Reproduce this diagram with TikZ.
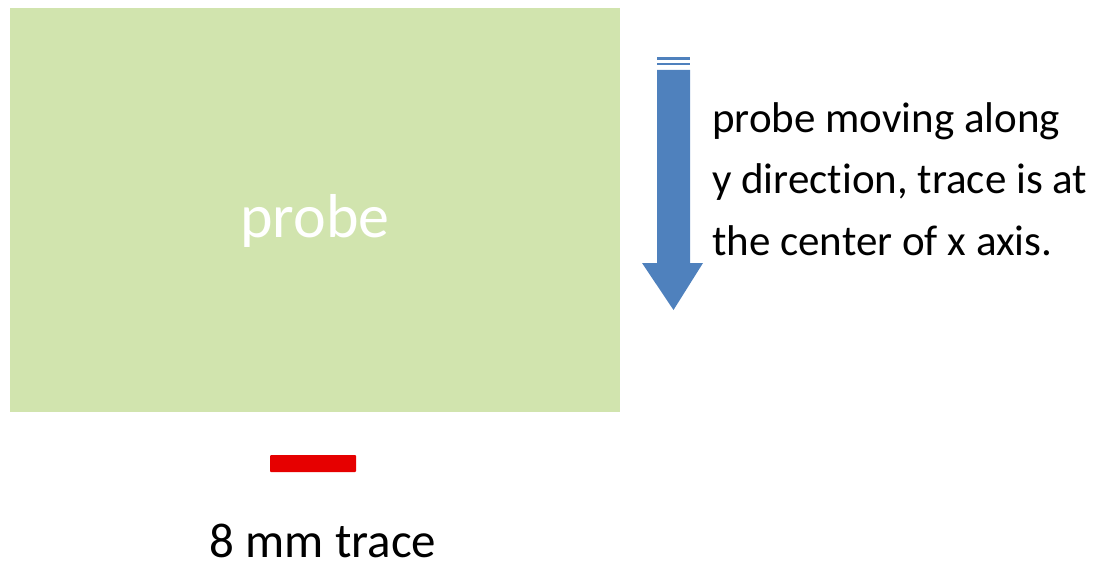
\documentclass[tikz,border=0pt]{standalone}
\usepackage{fontspec}
\setmainfont[RawFeature=-liga]{Carlito}
\definecolor{probegreen}{RGB}{209,228,174}
\definecolor{arrowblue}{RGB}{79,129,189}
\definecolor{tracered}{RGB}{230,0,0}
\tikzset{
  probebox/.style={fill=probegreen, draw=none, inner sep=0pt},
  tracebar/.style={fill=tracered, draw=none, inner sep=0pt, rounded corners=1pt},
  bigtext/.style={text=black, inner sep=0pt},
  arrowfill/.style={fill=arrowblue, draw=none}
}
\begin{document}
\begin{tikzpicture}[x=1pt,y=1pt]
\useasboundingbox (0,0) rectangle (1099,-567);
% probe box
\node[probebox, minimum width=610pt, minimum height=404pt] (probe) at (315,-210) {};
\node[bigtext, text=white, anchor=base, font=\fontsize{62}{70}\selectfont] (probelabel) at (315,-237) {probe};
% trace bar
\node[tracebar, minimum width=86pt, minimum height=17pt] (trace) at (313,-463.5) {};
\node[bigtext, anchor=base, font=\fontsize{49}{56}\selectfont] (tracelabel) at (323,-557) {8 mm trace};
% striped arrow
\coordinate (arrowtop) at (673.5,-57);
\coordinate (arrowtip) at (673.5,-310);
\fill[arrowfill] (657,-57) rectangle (690,-60);
\fill[arrowfill] (657,-63) rectangle (690,-65);
\fill[arrowfill] (657,-70) -- (690,-70) -- (690,-263) -- (703,-263) -- (arrowtip) -- (642,-263) -- (657,-263) -- cycle;
% description
\node[bigtext, anchor=base west, align=left, font=\fontsize{43}{61.5}\selectfont] (desc) at (712,-255)
  {probe moving along\\y direction, trace is at\\the center of x axis.};
\end{tikzpicture}
\end{document}
